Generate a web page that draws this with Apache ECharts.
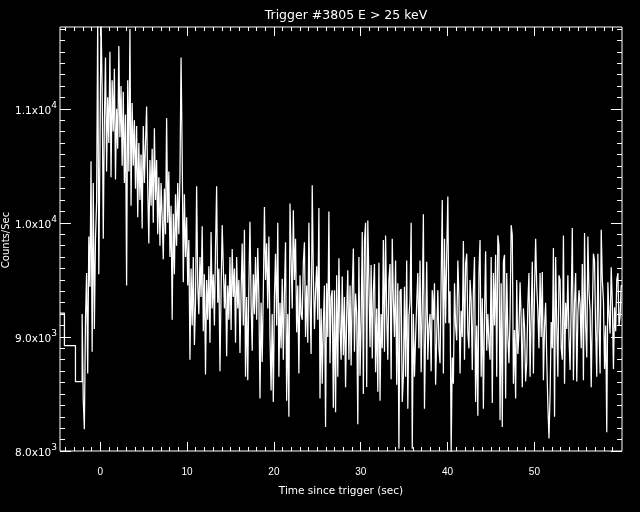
<!DOCTYPE html>
<html>
<head>
<meta charset="utf-8">
<script src="https://cdn.jsdelivr.net/npm/echarts@6/dist/echarts.min.js"></script>
<style>
html,body{margin:0;padding:0;background:#000;}
#chart{width:640px;height:512px;}
</style>
</head>
<body>
<div id="chart"></div>
<script>
// ---- data ----
const titleText = 'Trigger #3805 E > 25 keV';
const xTitle = 'Time since trigger (sec)';
const yTitle = 'Counts/Sec';

// coarse pre-trigger bins (start times, counts/sec)
const coarseStarts = [-4.63, -4.12, -2.85];
const coarseCounts = [9208, 8924, 8608];

// fine bins start at fineStart, width fineWidth (sec)
const fineStart = -2.08;
const fineWidth = 0.128;

// rise and main peak (~ -2 .. 11 s)
const countsPeak = [
 9200, 8450, 8190, 9150, 9560, 8680, 9880, 9440, 10540, 8870,
 10350, 9070, 9860, 10180, 11800, 9550, 10620, 11800, 11180, 9860,
 10900, 11450, 10450, 11100, 10700, 11500, 10400, 11250, 10800, 11350,
 10380, 11000, 10650, 11550, 10750, 11200, 10500, 11150, 10350, 10950,
 9450, 11250, 10450, 11700, 10150, 11050, 10500, 10900, 10300, 10850,
 10050, 10700, 10200, 10600, 9950, 10850, 10350, 10700, 11020, 10300,
 9820, 10550, 10150, 10650, 10000, 10830, 10200, 10550, 9900, 10400,
 9800, 10350, 10050, 9680, 10300, 9900, 10920, 10000, 10450, 9700,
 10150, 9150, 10080, 9550, 10250, 9800, 10350, 9900, 10420, 11450,
 10600, 9480, 10250, 9700, 10050, 9450, 9850, 8800, 9600, 9100,
 9700, 8930
];
// decay (~11 .. 27 s)
const countsDecay = [
 9300, 10320, 9450, 9200, 9700, 9350, 9970, 9050, 9550, 8670,
 9500, 9150, 9620, 8950, 9920, 9250, 9550, 9100, 9780, 10320,
 9300, 9600, 8700, 9400, 9980, 9620, 9250, 9550, 8830, 9450,
 9150, 9700, 9060, 9770, 9350, 9600, 8950, 9700, 9250, 9500,
 8860, 9400, 9820, 9100, 9940, 8650, 9350, 8620, 9450, 10010,
 9300, 8880, 9550, 9200, 9700, 9150, 9780, 9350, 8460, 9300,
 8780, 9400, 10140, 9500, 9820, 9250, 9880, 9000, 8530, 9200,
 8430, 9350, 9730, 9100, 10000, 8650, 9300, 8900, 9510, 8800,
 9400, 9830, 8440, 9200, 8300, 10170, 9700, 9250, 10110, 9500,
 9860, 9040, 9450, 8680, 9540, 9200, 9150, 9650, 9830, 9000,
 9450, 8950, 10000, 9300, 8850, 10330, 9550, 9070, 9400, 9620,
 9150, 10130, 8460, 9250, 8590, 9120, 9450, 8210, 9470, 9000,
 10100, 8770, 9350, 9410, 8380
];
// tail (~27 .. 43.6 s)
const countsTailA = [
 9410, 8340, 9540, 8650, 9690, 9100, 8800, 9530, 8840, 9350,
 8560, 9200, 9585, 8800, 9450, 8750, 9400, 9775, 8870, 9380,
 9200, 8235, 9700, 8660, 9150, 9920, 8500, 9840, 10000, 8560,
 10020, 9480, 8910, 9630, 8810, 9400, 9640, 8690, 9250, 8520,
 9650, 8440, 9200, 8900, 9850, 8870, 9890, 9200, 8800, 9500,
 9640, 8630, 9860, 9320, 9000, 9670, 8580, 9470, 8020, 9400,
 9420, 8430, 8650, 9440, 8650, 9670, 8370, 9180, 9320, 10000,
 8020, 9200, 8650, 8990, 9300, 9560, 8900, 9670, 8690, 9250,
 10075, 8370, 9050, 9660, 8800, 9090, 9200, 8700, 9410, 9150,
 9470, 8580, 9000, 9410, 8900, 8770, 9500, 10200, 8680, 9860,
 9120, 9730, 10230, 9120, 9400, 7990, 8820, 8590, 9470, 9100,
 8970, 9670, 9350, 8680, 9230, 9000, 9840, 8800, 9640, 9730,
 9040, 8900, 9500, 9320, 8710, 9400, 9700, 8430, 9100, 8310
];
// tail (~43.6 .. 60 s)
const countsTailB = [
 9560, 9850, 8650, 9340, 8370, 9200, 9750, 8880, 9200, 8950,
 8800, 9700, 8420, 9560, 9100, 9720, 8650, 9890, 9800, 8270,
 9470, 8210, 9660, 9720, 8460, 9560, 9010, 8770, 9180, 9980,
 9890, 8590, 9060, 8460, 9500, 8850, 9040, 9480, 9150, 8560,
 9250, 9090, 8610, 8780, 9290, 9560, 8650, 9200, 9660, 8680,
 9400, 9860, 9440, 9220, 8900, 9560, 9000, 9570, 8620, 9090,
 9300, 8800, 8400, 8110, 8490, 9130, 8900, 9780, 8300, 9700,
 9100, 8650, 9540, 9500, 8900, 8800, 9890, 8590, 9300, 9070,
 9540, 9000, 8710, 9300, 9955, 8620, 9300, 9560, 8610, 9200,
 9410, 9290, 8900, 9640, 8620, 9910, 9100, 8820, 9880, 9400,
 9230, 8560, 9200, 9730, 9670, 9050, 8650, 9730, 9100, 8680,
 9940, 9500, 9320, 8720, 9100, 8165, 9480, 9200, 9030, 9610,
 9300, 8720, 9260, 9050, 9500, 9560, 9100, 9180, 9450
];

// axis ranges and ticks
const xMin = -4.63, xMax = 60.09;
const yMin = 8000, yMax = 11717;
const xMajorTicks = [0, 10, 20, 30, 40, 50];
const xTickLabels = ['0', '10', '20', '30', '40', '50'];
const yMajorTicks = [8000, 9000, 10000, 11000];
const yTickMantissa = ['8.0', '9.0', '1.0', '1.1'];
const yTickExponent = ['3', '3', '4', '4'];
const xMinorStep = 1, yMinorStep = 100;

// ---- build ----
const fineCounts = countsPeak.concat(countsDecay, countsTailA, countsTailB);
const pts = [];
coarseStarts.forEach((t, i) => pts.push([t, coarseCounts[i]]));
fineCounts.forEach((c, i) => pts.push([+(fineStart + i * fineWidth).toFixed(3), c]));
pts.push([+(fineStart + fineCounts.length * fineWidth).toFixed(3), fineCounts[fineCounts.length - 1]]);

const xMinorTicks = [];
for (let v = Math.ceil(xMin); v <= xMax; v += xMinorStep) if (v % 10 !== 0) xMinorTicks.push(v);
const yMinorTicks = [];
for (let v = yMin + yMinorStep; v < yMax; v += yMinorStep) if (v % 1000 !== 0) yMinorTicks.push(v);

const FONT = 'Liberation Sans';
const FONT2 = 'DejaVu Sans';
const WHITE = '#ffffff';
const gridRect = { left: 60, top: 27, width: 562, height: 424, containLabel: false, outerBoundsMode: 'none' };

function xAx(gridIndex, position, ticks, len, labels) {
  const ax = {
    type: 'value', gridIndex, position, min: xMin, max: xMax,
    axisLine: { show: false, onZero: false }, splitLine: { show: false },
    axisTick: { show: true, inside: true, length: len, customValues: ticks, lineStyle: { color: WHITE, width: 1 } },
    axisLabel: { show: false }
  };
  if (labels) {
    ax.axisLabel = {
      show: true, customValues: xMajorTicks, color: WHITE, fontFamily: FONT, fontSize: 10, margin: 16,
      formatter: v => { const k = xMajorTicks.indexOf(v); return k >= 0 ? xTickLabels[k] : ''; }
    };
    ax.name = xTitle; ax.nameLocation = 'middle'; ax.nameGap = 35;
    ax.nameTextStyle = { color: WHITE, fontFamily: FONT2, fontSize: 10.5 };
  }
  return ax;
}
function yAx(gridIndex, position, ticks, len, labels) {
  const ax = {
    type: 'value', gridIndex, position, min: yMin, max: yMax,
    axisLine: { show: false, onZero: false }, splitLine: { show: false },
    axisTick: { show: true, inside: true, length: len, customValues: ticks, lineStyle: { color: WHITE, width: 1 } },
    axisLabel: { show: false }
  };
  if (labels) {
    ax.axisLabel = {
      show: true, customValues: yMajorTicks, margin: 3,
      formatter: v => { const k = yMajorTicks.indexOf(v); return k >= 0 ? '{m|' + yTickMantissa[k] + 'x10}{e|' + yTickExponent[k] + '}' : ''; },
      rich: {
        m: { color: WHITE, fontFamily: FONT2, fontSize: 10.5, verticalAlign: 'bottom', lineHeight: 15 },
        e: { color: WHITE, fontFamily: FONT2, fontSize: 9, verticalAlign: 'top', lineHeight: 15 }
      }
    };
  }
  return ax;
}

const chart = echarts.init(document.getElementById('chart'), null, { renderer: 'canvas' });
chart.setOption({
  backgroundColor: '#000000',
  animation: false,
  title: {
    text: titleText, left: 341, top: 4, textAlign: 'center',
    textStyle: { color: WHITE, fontFamily: FONT2, fontSize: 12.5, fontWeight: 'normal' }
  },
  graphic: [{
    type: 'text', x: 6, y: 240, rotation: Math.PI / 2, silent: true,
    style: { text: yTitle, fill: WHITE, font: '10px "DejaVu Sans"', align: 'center', verticalAlign: 'middle' }
  }],
  grid: [
    Object.assign({ show: true, borderColor: WHITE, borderWidth: 1, backgroundColor: 'transparent' }, gridRect),
    Object.assign({ show: false }, gridRect)
  ],
  xAxis: [
    xAx(0, 'bottom', xMajorTicks, 9, true),
    xAx(0, 'top', xMajorTicks, 9, false),
    xAx(1, 'bottom', xMinorTicks, 4, false),
    xAx(1, 'top', xMinorTicks, 4, false)
  ],
  yAxis: [
    yAx(0, 'left', yMajorTicks, 11, true),
    yAx(0, 'right', yMajorTicks, 11, false),
    yAx(1, 'left', yMinorTicks, 5, false),
    yAx(1, 'right', yMinorTicks, 5, false)
  ],
  series: [{
    type: 'line', xAxisIndex: 0, yAxisIndex: 0, data: pts, step: 'end',
    showSymbol: false, symbol: 'none', clip: true,
    lineStyle: { color: WHITE, width: 1.25 }
  }]
});
</script>
</body>
</html>
